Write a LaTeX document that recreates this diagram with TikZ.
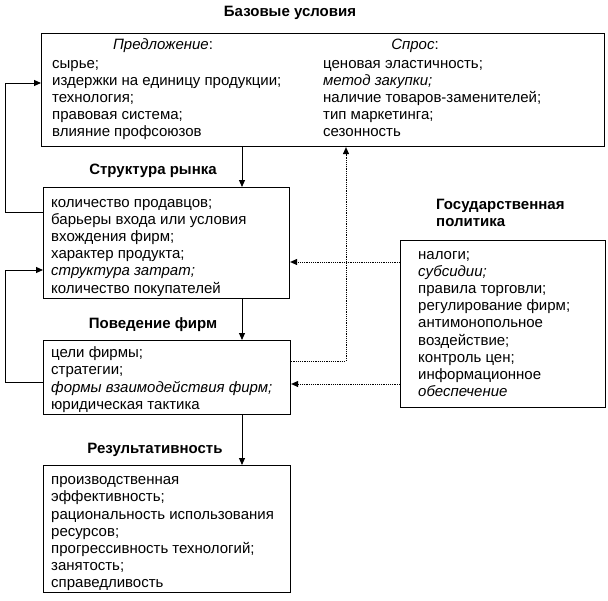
\documentclass[tikz,border=0pt]{standalone}
\usepackage{fontspec}
\setmainfont{Liberation Sans}
\usetikzlibrary{arrows.meta}
\newcommand{\bodyf}{\fontsize{15}{17.2}\selectfont}
\newcommand{\headf}{\fontsize{15}{17.2}\selectfont\bfseries}
\begin{document}
\begin{tikzpicture}[x=1pt,y=-1pt,
  box/.style={draw,line width=1.1pt,inner sep=0pt,anchor=north west},
  txt/.style={anchor=north west,inner sep=0pt,align=left,font=\bodyf},
  lbl/.style={inner sep=0pt,font=\headf,align=left},
  arr/.style={line width=1pt,-{Triangle[length=7pt,width=6pt]}},
  darr/.style={line width=1pt,dash pattern=on 1.2pt off 1pt,-{Triangle[length=7pt,width=6pt]}},
  dline/.style={line width=1pt,dash pattern=on 1.2pt off 1pt}]
\useasboundingbox (0,0) rectangle (608,600);
% titles
\node[lbl] (t1) at (290,13) {Базовые условия};
\node[lbl] (t2) at (153,171) {Структура рынка};
\node[lbl] (t3) at (153,325) {Поведение фирм};
\node[lbl] (t4) at (155,450) {Результативность};
\node[lbl,anchor=north west] (t5) at (436,196.9) {\strut Государственная\\политика};
% boxes
\node[box,minimum width=563pt,minimum height=113pt] (b1) at (41,33) {};
\node[box,minimum width=246pt,minimum height=111pt] (b2) at (43,187) {};
\node[box,minimum width=247pt,minimum height=74pt] (b3) at (43,340) {};
\node[box,minimum width=247pt,minimum height=127pt] (b4) at (43,465) {};
\node[box,minimum width=205pt,minimum height=167pt] (b5) at (400,240) {};
% box 1 text
\node[font=\bodyf,inner sep=0pt] (h1) at (163,46) {\textit{Предложение}:};
\node[font=\bodyf,inner sep=0pt] (h2) at (415,46) {\textit{Спрос}:};
\node[txt] (c1) at (52,55.9) {\strut сырье;\\издержки на единицу продукции;\\технология;\\правовая система;\\влияние профсоюзов};
\node[txt] (c2) at (323,55.9) {\strut ценовая эластичность;\\\textit{метод закупки;}\\наличие товаров-заменителей;\\тип маркетинга;\\сезонность};
% box 2 text
\node[txt] (c3) at (51,194.9) {\strut количество продавцов;\\барьеры входа или условия\\вхождения фирм;\\характер продукта;\\\textit{структура затрат;}\\количество покупателей};
% box 3 text
\node[txt] (c4) at (51,345.4) {\strut цели фирмы;\\стратегии;\\\textit{формы взаимодействия фирм;}\\юридическая тактика};
% box 4 text
\node[txt] (c5) at (51,472.4) {\strut производственная\\эффективность;\\рациональность использования\\ресурсов;\\прогрессивность технологий;\\занятость;\\справедливость};
% box 5 text
\node[txt] (c6) at (418,246.9) {\strut налоги;\\\textit{субсидии;}\\правила торговли;\\регулирование фирм;\\антимонопольное\\воздействие;\\контроль цен;\\информационное\\\textit{обеспечение}};
% helper coordinates
\coordinate (ax) at (242,0);
\coordinate (dx) at (346,0);
\coordinate (f1a) at (5,212);
\coordinate (f1b) at (5,83);
\coordinate (f2a) at (5,382);
\coordinate (f2b) at (5,270);
\coordinate (g1) at (0,262);
\coordinate (g2) at (0,384);
\coordinate (g3) at (346,361);
% main flow
\draw[arr] (b1.south -| ax) -- (b2.north -| ax);
\draw[arr] (b2.south -| ax) -- (b3.north -| ax);
\draw[arr] (b3.south -| ax) -- (b4.north -| ax);
% feedback loops
\draw[arr] (b2.west |- f1a) -- (f1a) -- (f1b) -- (b1.west |- f1b);
\draw[arr] (b3.west |- f2a) -- (f2a) -- (f2b) -- (b2.west |- f2b);
% government policy
\draw[darr] (b5.west |- g1) -- (b2.east |- g1);
\draw[darr] (b5.west |- g2) -- (b3.east |- g2);
\draw[dline] (b3.east |- g3) -- (g3);
\draw[darr] (g3) -- (b1.south -| dx);
\end{tikzpicture}
\end{document}
